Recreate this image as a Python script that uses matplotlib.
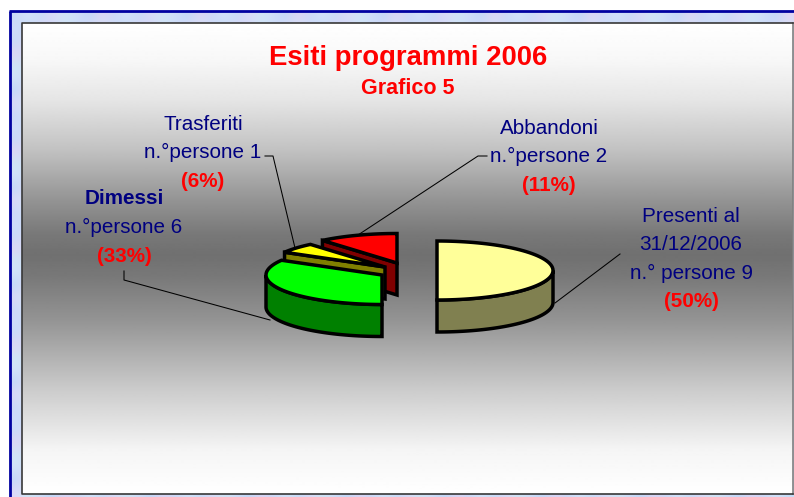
import numpy as np
import matplotlib
matplotlib.use("Agg")
import matplotlib.pyplot as plt
from matplotlib.patches import Polygon
from matplotlib.colors import to_rgb

plt.rcParams['font.family'] = ['Liberation Sans', 'DejaVu Sans']

# data
title = "Esiti programmi 2006"
subtitle = "Grafico 5"
categories = ["Presenti", "Dimessi", "Trasferiti", "Abbandoni"]
values = [9, 6, 1, 2]
percent_labels = ["(50%)", "(33%)", "(6%)", "(11%)"]
label_lines = [
    ["Presenti al", "31/12/2006", "n.° persone 9"],
    ["Dimessi", "n.°persone 6"],
    ["Trasferiti", "n.°persone 1"],
    ["Abbandoni", "n.°persone 2"],
]

# style
top_colors = ["#FFFF99", "#00FF00", "#FFFF00", "#FF0000"]
side_colors = ["#808050", "#008000", "#808000", "#800000"]
apexes = [(437, 270.5), (382, 275), (385, 267), (397, 263)]
label_x = [691, 124, 203, 549]
label_y0 = [216, 199, 124, 128]
leaders = [
    [(620, 254), (555, 303)],
    [(124, 271), (124, 280), (270, 320)],
    [(265, 156), (273, 156), (295, 248)],
    [(487, 156), (478, 156), (358, 235)],
]
grad_y = [23, 60, 100, 150, 200, 235, 255, 275, 320, 390, 450, 494]
grad_v = [1.0, .97, .90, .76, .58, .47, .44, .47, .58, .80, .96, 1.0]
marble_tints = ["#C8D8F8", "#D8E4FA", "#C4DCF8", "#E0D8F8", "#CCE8F4", "#D4DCFA", "#BCD8F8", "#E4D4F4"]
A, B, DEPTH = 116, 29.5, 32
NAVY = "#000080"
RED = "#FF0000"

fig = plt.figure(figsize=(7.94, 4.97), dpi=100)
ax = fig.add_axes([0, 0, 1, 1])
ax.axis("off")

# marbled frame
tile = np.array([to_rgb(c) for c in marble_tints])
rows = [np.roll(tile, 3 * k, axis=0) for k in range(40)]
marble = np.stack([np.concatenate([r] * 8) for r in rows])
ax.imshow(marble, extent=(10, 794, 497, 11), aspect="auto", zorder=0, interpolation="bicubic")
ax.plot([10, 10], [497, 11], color="#0000A0", lw=2.0, zorder=1, solid_capstyle="butt")
ax.plot([9, 794], [11, 11], color="#0000A0", lw=2.0, zorder=1, solid_capstyle="butt")

# panel gradient
ys = np.arange(23, 495)
grad = np.interp(ys, grad_y, grad_v)[:, None]
ax.imshow(grad, cmap="gray", vmin=0, vmax=1, extent=(22, 793, 494, 23),
          aspect="auto", zorder=1, interpolation="bilinear")
ax.set_xlim(0, 794)
ax.set_ylim(497, 0)
ax.plot([793, 793], [23, 494], color="#808080", lw=1.2, zorder=2)
ax.plot([793, 22, 22, 793], [23, 23, 494, 494], color="#383838", lw=1.2, zorder=2)


def arc(cx, cy, a0, a1, dy=0):
    t = np.radians(np.linspace(a0, a1, 80))
    return np.column_stack([cx + A * np.sin(t), cy - B * np.cos(t) + dy])


# slices: angles run clockwise from the top, derived from the values
total = sum(values)
edges = np.concatenate([[0], np.cumsum(values)]) * 360 / total
kw = dict(ec="black", lw=2.5, joinstyle="miter", zorder=4)
for i in [3, 2, 1, 0]:
    cx, cy = apexes[i]
    a0, a1 = edges[i], edges[i + 1]
    # visible cut faces
    for ang, visible in ((a0, 180 < a0 < 360), (a1, 0 < a1 < 180)):
        if visible:
            p = arc(cx, cy, ang, ang, 0)[0]
            ax.add_patch(Polygon([(cx, cy), p, (p[0], p[1] + DEPTH), (cx, cy + DEPTH)],
                                 fc=side_colors[i], **kw))
    # outer wall
    w0, w1 = max(a0, 90), min(a1, 270)
    if w1 > w0:
        ax.add_patch(Polygon(np.vstack([arc(cx, cy, w0, w1),
                                        arc(cx, cy, w1, w0, DEPTH)]),
                             fc=side_colors[i], **kw))
    # top surface
    ax.add_patch(Polygon(np.vstack([[(cx, cy)], arc(cx, cy, a0, a1)]),
                         fc=top_colors[i], **kw))

# leaders
for pts in leaders:
    xs, ys_ = zip(*pts)
    ax.plot(xs, ys_, color="black", lw=0.75, zorder=3)

# text
ax.text(408, 58, title, color=RED, fontsize=19.8, fontweight="bold",
        ha="center", va="center", zorder=5)
ax.text(408, 88, subtitle, color=RED, fontsize=15.5, fontweight="bold",
        ha="center", va="center", zorder=5)
for i, lines in enumerate(label_lines):
    y = label_y0[i]
    for s in lines:
        bold = s == "Dimessi"
        ax.text(label_x[i], y, s, color=NAVY, fontsize=14.9,
                fontweight="bold" if bold else "normal",
                ha="center", va="center", zorder=5)
        y += 28.6
    ax.text(label_x[i], y, percent_labels[i], color=RED, fontsize=14.9,
            fontweight="bold", ha="center", va="center", zorder=5)

fig.savefig("out.png", dpi=100)
